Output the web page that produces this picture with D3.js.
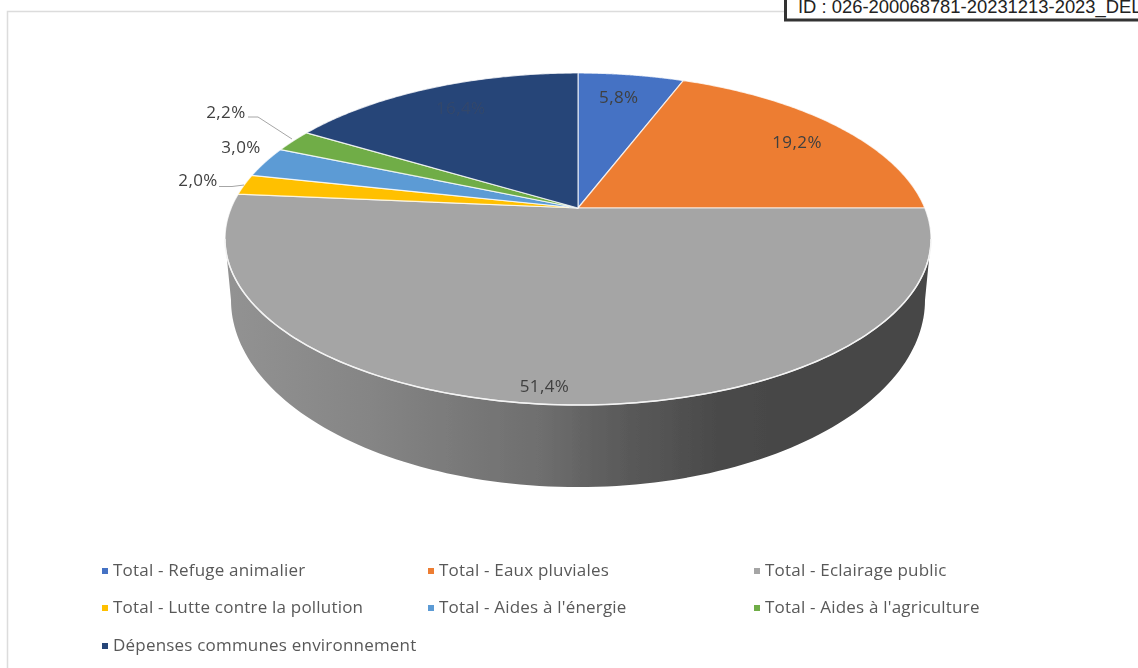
<!DOCTYPE html>
<html>
<head>
<meta charset="utf-8">
<script src="https://cdnjs.cloudflare.com/ajax/libs/d3/7.8.5/d3.min.js"></script>
<style>
html, body { margin: 0; padding: 0; background: #fff; overflow: hidden; }
text { font-family: "Open Sans", "Noto Sans", sans-serif; }
</style>
</head>
<body>
<script>
var categories = ["Total - Refuge animalier", "Total - Eaux pluviales", "Total - Eclairage public",
                  "Total - Lutte contre la pollution", "Total - Aides à l'énergie",
                  "Total - Aides à l'agriculture", "Dépenses communes environnement"];
var values = [5.8, 19.2, 51.4, 2.0, 3.0, 2.2, 16.4];
var valueLabels = ["5,8%", "19,2%", "51,4%", "2,0%", "3,0%", "2,2%", "16,4%"];
var colors = ["#4472c4", "#ed7d31", "#a5a5a5", "#ffc000", "#5b9bd5", "#70ad47", "#264478"];
var stampText = "ID : 026-200068781-20231213-2023_DEL";

//////////////////////////////////////////////////////////////////////////////
// Global variables, preliminaries

var width = 1138, height = 668;

// perspective of the disc: apex, radii and foreshortening
var cx = 578, cy = 208, rX = 346.8, rY = 160.2, persp = -0.1867;
var faceCenterY = 239, sideDrop = 61, sideShrinkX = 0.983, sideShrinkY = 1.127;

var svg = d3.select("body").append("svg")
    .attr("width", width)
    .attr("height", height);

var defs = svg.append("defs");

// the reference is a soft screenshot
defs.append("filter")
    .attr("id", "soft")
    .attr("x", "-5%").attr("y", "-5%").attr("width", "110%").attr("height", "110%")
    .append("feGaussianBlur")
    .attr("stdDeviation", 0.45);

// theta is clockwise from 12 o'clock, r is 0..1 on the disc
function project(theta, r) {
    var a = r * Math.sin(theta), b = -r * Math.cos(theta);
    var w = 1 + persp * b;
    return [cx + rX * a / w, cy + rY * b / w];
}

function projectBottom(theta) {
    var p = project(theta, 1);
    return [cx + (p[0] - cx) * sideShrinkX,
            faceCenterY + sideDrop + (p[1] - faceCenterY) * sideShrinkY];
}

function rimAngles(d) {
    return d3.range(0, 121).map(function(i) {
        return d.startAngle + (d.endAngle - d.startAngle) * i / 120;
    });
}

var line = d3.line();

var pie = d3.pie().sort(null).value(function(d) { return d; });
var slices = pie(values);

// where the rim is widest, the side wall starts and stops there
var silhouette = Math.asin(-persp);
var frontArc = {startAngle: Math.PI / 2 + silhouette, endAngle: 3 * Math.PI / 2 - silhouette};

//////////////////////////////////////////////////////////////////////////////
// chart frame

svg.append("path")
    .attr("d", "M7.5 668V11.5H1138")
    .attr("fill", "none")
    .attr("stroke", "#dcdcdc")
    .attr("stroke-width", 1.5);

var chart = svg.append("g").attr("filter", "url(#soft)");

//////////////////////////////////////////////////////////////////////////////
// side of the disc, only the big slice shows it

var sideGrad = defs.append("linearGradient")
    .attr("id", "sideGrad")
    .attr("gradientUnits", "userSpaceOnUse")
    .attr("x1", cx - rX).attr("x2", cx + rX).attr("y1", 0).attr("y2", 0);
[[0, "#929292"], [0.2, "#858585"], [0.45, "#6e6e6e"], [0.55, "#5c5c5c"], [0.7, "#4a4a4a"], [0.8, "#464646"], [1, "#464646"]]
    .forEach(function(s) {
        sideGrad.append("stop").attr("offset", s[0]).attr("stop-color", s[1]);
    });

chart.append("path")
    .datum(frontArc)
    .attr("d", function(d) {
        var angles = rimAngles(d);
        var topEdge = angles.map(function(t) { return project(t, 1); });
        var bottomEdge = angles.slice().reverse().map(projectBottom);
        return line(topEdge.concat(bottomEdge)) + "Z";
    })
    .attr("fill", "url(#sideGrad)");

//////////////////////////////////////////////////////////////////////////////
// top face

chart.append("g").selectAll("path")
    .data(slices)
    .enter()
    .append("path")
    .attr("d", function(d) {
        var rim = rimAngles(d).map(function(t) { return project(t, 1); });
        return line([[cx, cy]].concat(rim)) + "Z";
    })
    .attr("fill", function(d, i) { return colors[i]; })
    .attr("stroke", "#fff")
    .attr("stroke-opacity", 0.75)
    .attr("stroke-width", 1.2)
    .attr("stroke-linejoin", "round");

// bright edge where the face meets the wall
chart.append("path")
    .datum(frontArc)
    .attr("d", function(d) {
        return line(rimAngles(d).map(function(t) { return project(t, 1); }));
    })
    .attr("fill", "none")
    .attr("stroke", "#f4f4f4")
    .attr("stroke-width", 1.5);

//////////////////////////////////////////////////////////////////////////////
// value labels

// radius on the disc, then a nudge in pixels
var labelPlace = [
    [0.8, -3, 5],
    [0.72, 28, 1],
    [0.9, -17, 11],
    [1.15, 2, 5],
    [1.13, 14, -3],
    [1.12, -36, -16],
    [0.75, -3, -1]
];

chart.append("g").selectAll("text")
    .data(slices)
    .enter()
    .append("text")
    .attr("x", function(d, i) {
        return project((d.startAngle + d.endAngle) / 2, labelPlace[i][0])[0] + labelPlace[i][1];
    })
    .attr("y", function(d, i) {
        return project((d.startAngle + d.endAngle) / 2, labelPlace[i][0])[1] + labelPlace[i][2];
    })
    .attr("text-anchor", "middle")
    .attr("font-size", 17)
    .attr("letter-spacing", 0.4)
    .attr("fill", function(d, i) { return i === 6 ? "#33476b" : "#404040"; })
    .text(function(d, i) { return valueLabels[i]; });

// leader lines, from the labels outside to their slices
var leader = d3.line();
chart.append("path")
    .attr("d", leader([[248, 117], [258, 117], [292, 139]]))
    .attr("fill", "none").attr("stroke", "#a6a6a6");
chart.append("path")
    .attr("d", leader([[219, 186.5], [232, 186.5], [244, 185]]))
    .attr("fill", "none").attr("stroke", "#a6a6a6");

//////////////////////////////////////////////////////////////////////////////
// legend

var legendX = d3.scaleOrdinal().domain([0, 1, 2]).range([102, 428, 754]);
var legendY = d3.scaleOrdinal().domain([0, 1, 2]).range([571, 608, 646]);

var legend = chart.append("g").selectAll("g")
    .data(categories)
    .enter()
    .append("g")
    .attr("transform", function(d, i) {
        return "translate(" + legendX(i % 3) + "," + legendY(Math.floor(i / 3)) + ")";
    });

legend.append("rect")
    .attr("x", 0).attr("y", -3)
    .attr("width", 6).attr("height", 6)
    .attr("fill", function(d, i) { return colors[i]; });

legend.append("text")
    .attr("x", 11)
    .attr("y", 5)
    .attr("font-size", 17)
    .attr("letter-spacing", 0.2)
    .attr("fill", "#595959")
    .text(function(d) { return d; });

//////////////////////////////////////////////////////////////////////////////
// stamp box in the corner

svg.append("rect")
    .attr("x", 785.5).attr("y", -10)
    .attr("width", 400).attr("height", 30)
    .attr("fill", "#fff")
    .attr("stroke", "#333")
    .attr("stroke-width", 3);

svg.append("text")
    .attr("x", 798)
    .attr("y", 13)
    .attr("font-size", 18.4)
    .style("font-family", "'Liberation Sans', Arial, sans-serif")
    .attr("fill", "#222")
    .text(stampText);
</script>
</body>
</html>
